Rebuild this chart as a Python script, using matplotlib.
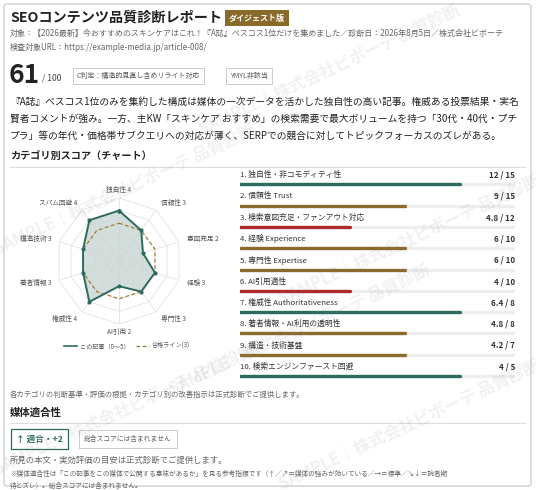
import numpy as np
import matplotlib.pyplot as plt
from matplotlib.patches import FancyBboxPatch
from matplotlib.lines import Line2D

plt.rcParams['font.family'] = ['Noto Sans CJK JP', 'DejaVu Sans']

# データ
radar_names = ["独自性", "信頼性", "意図充足", "経験", "専門性",
               "AI引用", "権威性", "著者情報", "構造技術", "スパム回避"]
radar_values = [4, 3, 2, 3, 3, 2, 4, 3, 3, 4]
pass_line = 3

bar_labels = ["1. 独自性・非コモディティ性", "2. 信頼性 Trust",
              "3. 検索意図充足・ファンアウト対応", "4. 経験 Experience",
              "5. 専門性 Expertise", "6. AI引用適性",
              "7. 権威性 Authoritativeness", "8. 著者情報・AI利用の透明性",
              "9. 構造・技術基盤", "10. 検索エンジンファースト回避"]
bar_scores = [12, 9, 4.8, 6, 6, 4, 6.4, 4.8, 4.2, 4]
bar_max = [15, 15, 12, 10, 10, 10, 8, 8, 7, 5]

total_score = 61
fit_label = "↑ 適合・+2"

TEAL = '#2e6b5f'
GOLD = '#8b6b2b'
RED = '#b0282e'
W, H = 536, 490


def fx(x):
    return x / W


def fy(y):
    return 1 - y / H


fig = plt.figure(figsize=(W / 100, H / 100), dpi=100)
fig.patch.set_facecolor('white')

# カード枠
card = FancyBboxPatch((fx(4), fy(486)), fx(527), 482 / H,
                      boxstyle='round,pad=0,rounding_size=0.006',
                      transform=fig.transFigure, fc='white', ec='#cfcfcf', lw=1.0,
                      zorder=-5)
fig.patches.append(card)

# --- ヘッダー ---
fig.text(fx(10), fy(18), "SEOコンテンツ品質診断レポート", fontsize=10.2,
         fontweight='bold', color='#222222', va='center')
fig.text(fx(229), fy(18), "ダイジェスト版", fontsize=5.8, fontweight='bold',
         color='white', va='center',
         bbox=dict(boxstyle='square,pad=0.45', fc='#8a6a28', ec='none'))
fig.text(fx(10), fy(33), "対象：【2026最新】今おすすめのスキンケアはこれ！『A誌』ベスコス1位だけを集めました／"
         "診断日：2026年8月5日／株式会社ビボーテ", fontsize=5.8, color='#666666', va='center')
fig.text(fx(10), fy(47), "検査対象URL：https://example-media.jp/article-008/",
         fontsize=5.8, color='#666666', va='center')

fig.text(fx(9), fy(75), str(total_score), fontsize=19, fontweight='bold',
         color='#222222', va='center')
fig.text(fx(42), fy(78), "/ 100", fontsize=6.2, color='#444444', va='center')
fig.text(fx(77), fy(76), "C判定：構造的見直し含めリライト対応", fontsize=5.0,
         color='#555555', va='center',
         bbox=dict(boxstyle='square,pad=0.55', fc='white', ec='#cccccc', lw=0.7))
fig.text(fx(230), fy(76), "YMYL非該当", fontsize=5.0, color='#555555', va='center',
         bbox=dict(boxstyle='square,pad=0.55', fc='white', ec='#cccccc', lw=0.7))

para = ["『A誌』ベスコス1位のみを集約した構成は媒体の一次データを活かした独自性の高い記事。権威ある投票結果・実名",
        "賢者コメントが強み。一方、主KW「スキンケア おすすめ」の検索需要で最大ボリュームを持つ「30代・40代・プチ",
        "プラ」等の年代・価格帯サブクエリへの対応が薄く、SERPでの競合に対してトピックフォーカスのズレがある。"]
for i, line in enumerate(para):
    fig.text(fx(10), fy(102 + 17 * i), line, fontsize=7.0, color='#222222', va='center')

fig.text(fx(10), fy(157), "カテゴリ別スコア（チャート）", fontsize=7.3,
         fontweight='bold', color='#222222', va='center')
fig.add_artist(Line2D([fx(10), fx(525)], [fy(167), fy(167)], color='#dddddd', lw=0.8))

# --- レーダーチャート ---
cx, cy, R = 119, 261, 63
rax = fig.add_axes([fx(cx - R), fy(cy + R), 2 * R / W, 2 * R / H], projection='polar')
rax.set_theta_zero_location('N')
rax.set_theta_direction(-1)
n = len(radar_names)
ang = np.linspace(0, 2 * np.pi, n, endpoint=False)
angc = np.append(ang, ang[0])
for lv in range(1, 6):
    rax.plot(angc, [lv] * (n + 1), color='#e2e2e2', lw=0.6, zorder=1)
for a in ang:
    rax.plot([a, a], [0, 5], color='#e2e2e2', lw=0.6, zorder=1)
vals = np.append(radar_values, radar_values[0])
rax.fill(angc, vals, color='#c9d5d2', alpha=0.8, zorder=2)
rax.plot(angc, [pass_line] * (n + 1), color='#a07d2e', lw=0.9, ls=(0, (3, 2)), zorder=3)
rax.plot(angc, vals, color=TEAL, lw=1.4, marker='o', ms=2, zorder=4)
rax.set_ylim(0, 5)
rax.set_xticks([])
rax.set_yticks([])
rax.grid(False)
rax.spines['polar'].set_visible(False)
rax.patch.set_alpha(0)
for a, name, v in zip(ang, radar_names, radar_values):
    s, c = np.sin(a), np.cos(a)
    if abs(s) < 0.05:
        ha = 'center'
    elif s > 0:
        ha = 'left'
    else:
        ha = 'right'
    if c > 0.95:
        va, r = 'bottom', 5.35
    elif c < -0.95:
        va, r = 'top', 5.35
    else:
        va, r = 'center', 5.65
    rax.text(a, r, f"{name} {v}", fontsize=4.8, color='#555555', ha=ha, va=va,
             clip_on=False)

h1 = Line2D([], [], color=TEAL, lw=1.2)
h2 = Line2D([], [], color='#a07d2e', lw=0.9, ls=(0, (3, 2)))
fig.legend([h1, h2], ["この記事（0〜5）", "合格ライン(3)"], loc='center',
           bbox_to_anchor=(fx(127), fy(346)), ncol=2, frameon=False, fontsize=4.4,
           handlelength=2.2, columnspacing=1.0, handletextpad=0.5, labelcolor='#555555')

# --- カテゴリ別バー ---
row = 21.3
top = 175 - 0.48 * row
bax = fig.add_axes([fx(240), fy(top + 10.4 * row), 275 / W, 10.4 * row / H])
bax.set_xlim(0, 1)
bax.set_ylim(9.7, -0.7)
bax.axis('off')
for i, (lab, sc, mx) in enumerate(zip(bar_labels, bar_scores, bar_max)):
    frac = sc / mx
    col = TEAL if frac >= 0.75 else (GOLD if frac >= 0.5 else RED)
    bax.text(0.0, i - 0.22, lab, fontsize=5.6, color='#333333', va='center')
    bax.text(1.0, i - 0.22, f"{sc:g} / {mx}", fontsize=5.8, fontweight='bold',
             color='#333333', va='center', ha='right')
    bax.hlines(i + 0.22, 0, 1, color='#eeeeee', lw=2.4)
    bax.hlines(i + 0.22, 0, frac, color=col, lw=2.4, capstyle='round')

# --- 下部 ---
fig.text(fx(10), fy(395), "各カテゴリの判断基準・評価の根拠・カテゴリ別の改善指示は正式診断でご提供します。",
         fontsize=5.3, color='#666666', va='center')
fig.text(fx(10), fy(413), "媒体適合性", fontsize=7.5, fontweight='bold',
         color='#222222', va='center')
fig.add_artist(Line2D([fx(10), fx(525)], [fy(423), fy(423)], color='#dddddd', lw=0.8))
fig.text(fx(16), fy(439), fit_label, fontsize=6.2, fontweight='bold', color=TEAL,
         va='center', bbox=dict(boxstyle='square,pad=0.6', fc='white', ec=TEAL, lw=0.9))
fig.text(fx(84), fy(439), "総合スコアには含まれません", fontsize=4.9, color='#666666',
         va='center', bbox=dict(boxstyle='square,pad=0.7', fc='white', ec='#cccccc', lw=0.7))
fig.text(fx(10), fy(460), "所見の本文・実効評価の目安は正式診断でご提供します。",
         fontsize=6.0, color='#666666', va='center')
fig.text(fx(10), fy(474), "※媒体適合性は「この記事をこの媒体で公開する意味があるか」を見る参考指標です"
         "（↑／↗＝媒体の強みが効いている／→＝標準／↘↓＝読者期", fontsize=4.8,
         color='#666666', va='center')
fig.text(fx(10), fy(486), "待とズレ）。総合スコアには含まれません。", fontsize=4.8,
         color='#666666', va='center')

# --- 透かし ---
wm = "SAMPLE｜株式会社ビボーテ 品質診断"
for wx, wy in [(125, 190), (330, 70), (410, 240), (125, 410), (300, 330), (410, 425)]:
    fig.text(fx(wx), fy(wy), wm, fontsize=12, fontweight='bold', color='#888888',
             alpha=0.12, rotation=25, ha='center', va='center', zorder=10)

fig.savefig("out.png", dpi=100)
